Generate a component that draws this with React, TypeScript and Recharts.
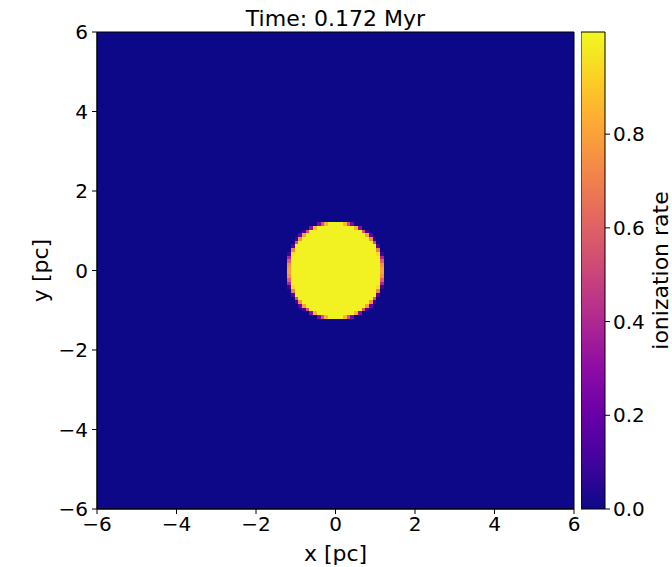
import { ScatterChart, Scatter, XAxis, YAxis, ReferenceArea } from 'recharts';

// grid: 128 x 128 cells over [-6, 6] pc
const extent = 6;
const nCells = 128;
const cellSize = (2 * extent) / nCells;

const xTicks = [-6, -4, -2, 0, 2, 4, 6];
const yTicks = [-6, -4, -2, 0, 2, 4, 6];
const cbarTicks = [0, 0.2, 0.4, 0.6, 0.8];
const vmax = 1.018;

// rows of the ionized disc, top (row 12) to bottom (row -13)
const rowIds = [12, 11, 10, 9, 8, 7, 6, 5, 4, 3, 2, 1, 0, -1, -2, -3, -4, -5, -6, -7, -8, -9, -10, -11, -12, -13];
// fully ionized cells on each side of x = 0
const rowFull = [2, 5, 7, 8, 9, 10, 11, 11, 11, 12, 12, 12, 12, 12, 12, 12, 12, 11, 11, 11, 10, 9, 8, 7, 5, 2];
// partially ionized cells past the full ones, going outward
const rowEdge = [
  [0.85, 0.55, 0.25],
  [0.85, 0.3],
  [0.55, 0.1],
  [0.8, 0.2],
  [0.75, 0.1],
  [0.55],
  [0.15],
  [0.7],
  [0.95, 0.1],
  [0.4],
  [0.6],
  [0.75],
  [0.8],
  [0.8],
  [0.75],
  [0.6],
  [0.4],
  [0.95, 0.1],
  [0.7],
  [0.15],
  [0.55],
  [0.75, 0.1],
  [0.8, 0.2],
  [0.55, 0.1],
  [0.85, 0.3],
  [0.85, 0.55, 0.25],
];
const fullValue = 1.0;

const PLASMA = ['#0d0887', '#41049d', '#6a00a8', '#8f0da4', '#b12a90', '#cc4778', '#e16462', '#f2844b', '#fca636', '#fcce25', '#f0f921'];

const hex = (c: string) => [1, 3, 5].map((i) => parseInt(c.slice(i, i + 2), 16));

function plasma(v: number) {
  const t = Math.max(0, Math.min(1, v / vmax)) * (PLASMA.length - 1);
  const i = Math.min(PLASMA.length - 2, Math.floor(t));
  const f = t - i;
  const a = hex(PLASMA[i]);
  const b = hex(PLASMA[i + 1]);
  const c = a.map((x, k) => Math.round(x + (b[k] - x) * f));
  return `rgb(${c[0]},${c[1]},${c[2]})`;
}

const font = 'DejaVu Sans, sans-serif';
const fmt = (v: number) => (v < 0 ? `\u2212${Math.abs(v)}` : `${v}`);
const tickStyle = { fill: '#000', fontSize: 20, fontFamily: font };

function discAreas() {
  const out: any[] = [];
  rowIds.forEach((k, i) => {
    const y1 = k * cellSize;
    const y2 = (k + 1) * cellSize;
    const n = rowFull[i];
    out.push(
      <ReferenceArea key={`f${k}`} x1={-n * cellSize} x2={n * cellSize} y1={y1} y2={y2}
        fill={plasma(fullValue)} fillOpacity={1} stroke="none" shapeRendering="crispEdges" />
    );
    rowEdge[i].forEach((v, j) => {
      const c = n + j;
      out.push(
        <ReferenceArea key={`r${k}_${j}`} x1={c * cellSize} x2={(c + 1) * cellSize} y1={y1} y2={y2}
          fill={plasma(v)} fillOpacity={1} stroke="none" shapeRendering="crispEdges" />
      );
      out.push(
        <ReferenceArea key={`l${k}_${j}`} x1={-(c + 1) * cellSize} x2={-c * cellSize} y1={y1} y2={y2}
          fill={plasma(v)} fillOpacity={1} stroke="none" shapeRendering="crispEdges" />
      );
    });
  });
  return out;
}

export default function App() {
  return (
    <div style={{ position: 'absolute', left: 0, top: 0, width: 672, height: 567, background: '#fff', overflow: 'hidden' }}>
      <svg width={1} height={1} style={{ position: 'absolute', left: 0, top: 0 }}>
        <defs>
          <linearGradient id="plasmaGrad" x1="0" y1="1" x2="0" y2="0">
            {PLASMA.map((c, i) => (
              <stop key={i} offset={`${(i / (PLASMA.length - 1)) * 100}%`} stopColor={c} />
            ))}
          </linearGradient>
        </defs>
      </svg>
      <div style={{ position: 'absolute', left: 97, top: 6, width: 477, textAlign: 'center', fontFamily: font, fontSize: 22, lineHeight: '26px', color: '#000' }}>
        Time: 0.172 Myr
      </div>
      <div style={{ position: 'absolute', left: 0, top: 0 }}>
        <ScatterChart width={580} height={567} margin={{ top: 32, right: 6, bottom: 0, left: 0 }}>
          <XAxis type="number" dataKey="x" domain={[-extent, extent]} ticks={xTicks} allowDataOverflow
            tickFormatter={fmt} tick={tickStyle} tickSize={5} tickMargin={3} height={58}
            stroke="#000" tickLine={{ stroke: '#000' }}
            label={{ value: 'x [pc]', position: 'insideBottom', offset: 6, style: { fill: '#000', fontSize: 22, fontFamily: font } }} />
          <YAxis type="number" dataKey="y" domain={[-extent, extent]} ticks={yTicks} allowDataOverflow
            tickFormatter={fmt} tick={tickStyle} tickSize={5} tickMargin={4} width={97}
            stroke="#000" tickLine={{ stroke: '#000' }}
            label={{ value: 'y [pc]', angle: -90, position: 'insideLeft', offset: 40, style: { fill: '#000', fontSize: 22, fontFamily: font, textAnchor: 'middle' } }} />
          <ReferenceArea x1={-extent} x2={extent} y1={-extent} y2={extent} fill={plasma(0)} fillOpacity={1} stroke="#000" strokeWidth={1} />
          {discAreas()}
          <Scatter data={[]} isAnimationActive={false} />
        </ScatterChart>
      </div>
      <div style={{ position: 'absolute', left: 581, top: 0 }}>
        <ScatterChart width={91} height={567} margin={{ top: 32, right: 0, bottom: 0, left: 0 }}>
          <XAxis type="number" dataKey="x" domain={[0, 1]} allowDataOverflow height={58} axisLine={false} tickLine={false} tick={false} />
          <YAxis type="number" dataKey="v" orientation="right" domain={[0, vmax]} ticks={cbarTicks} allowDataOverflow
            tickFormatter={(v: number) => v.toFixed(1)} tick={tickStyle} tickSize={5} tickMargin={3} width={67}
            axisLine={false} tickLine={{ stroke: '#000' }}
            label={{ value: 'ionization rate', angle: -90, position: 'insideRight', offset: 12, style: { fill: '#000', fontSize: 22, fontFamily: font, textAnchor: 'middle' } }} />
          <ReferenceArea x1={0} x2={1} y1={0} y2={vmax} fill="url(#plasmaGrad)" fillOpacity={1} stroke="#000" strokeWidth={1} ifOverflow="visible" />
          <Scatter data={[]} isAnimationActive={false} />
        </ScatterChart>
      </div>
    </div>
  );
}
